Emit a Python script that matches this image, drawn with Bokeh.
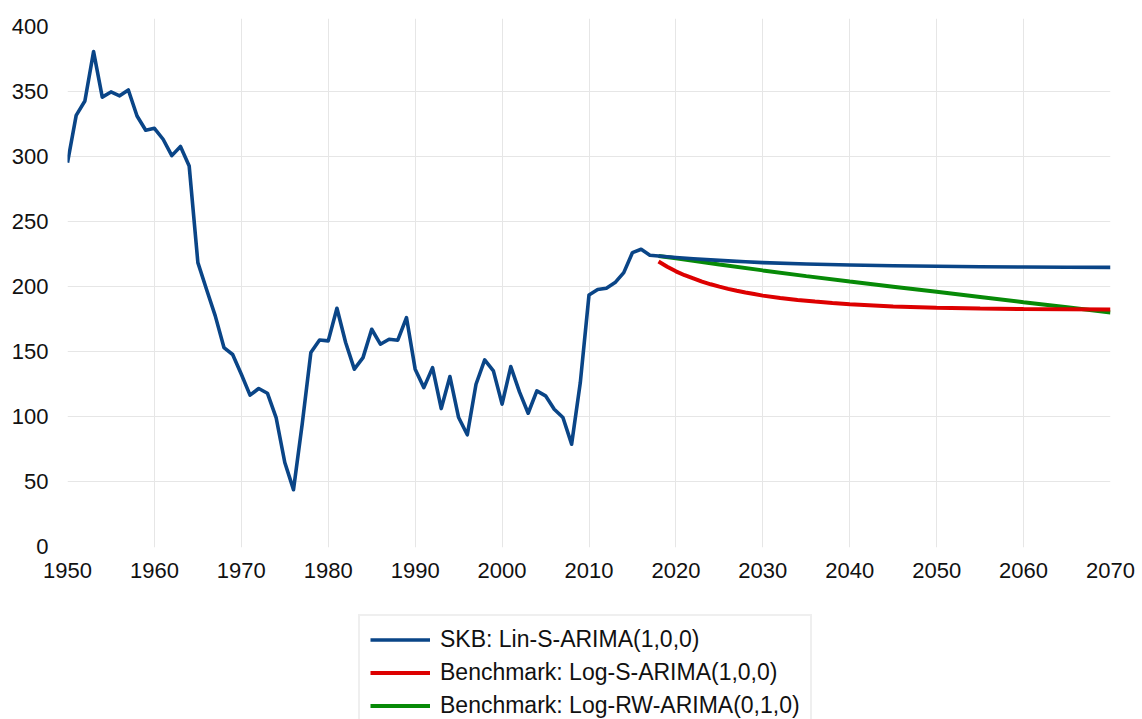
from bokeh.plotting import figure
from bokeh.layouts import column
from bokeh.models import Range1d, FixedTicker, Legend, LegendItem
from bokeh.embed import file_html
from bokeh.resources import INLINE

# ---- data ----
hist_years = list(range(1950, 2019))
hist_values = [295.6, 332, 343, 381, 346, 350, 347, 351.5, 331.5, 320.5,
               322, 313.6, 301, 308, 293, 218.7, 198, 177.7, 153.3, 148,
               132.8, 116.7, 121.8, 118.2, 99.5, 64.9, 44, 94.4, 149.5, 159.2,
               158.5, 183.6, 157.2, 136.7, 145.6, 167.4, 155.9, 159.7, 159, 176.4,
               136.7, 122.5, 137.9, 106.4, 131, 99.5, 86.2, 125.1, 143.8, 135.4,
               109.8, 138.7, 119.2, 102.8, 120, 116.2, 105.9, 99.5, 79, 126.4,
               193.8, 198, 199, 203.3, 211, 226.4, 229, 224.4, 223.8]

skb_fc_years = [2020, 2022, 2024, 2026, 2028, 2030, 2035, 2040, 2045, 2050, 2055, 2060, 2065, 2070]
skb_fc_values = [222.6, 221.6, 220.8, 220.0, 219.3, 218.7, 217.6, 216.9, 216.3, 215.9, 215.5, 215.3, 215.1, 215.0]

red_years = [2018, 2019, 2020, 2021, 2022, 2023, 2024, 2025, 2026, 2027, 2028, 2029, 2030,
             2032, 2034, 2036, 2038, 2040, 2045, 2050, 2055, 2060, 2065, 2070]
red_values = [219.5, 215.5, 212, 209, 206.5, 204, 202, 200.2, 198.5, 197, 195.7, 194.5, 193.3,
              191.5, 190, 188.7, 187.6, 186.6, 185, 184, 183.3, 183, 182.8, 182.6]

green_years = [2018, 2020, 2025, 2030, 2035, 2040, 2045, 2050, 2055, 2060, 2065, 2070]
green_values = [223.8, 222.0, 217.3, 212.7, 208.3, 204.2, 200.2, 196.2, 192.2, 188.2, 184.3, 180.3]

x_ticks = list(range(1950, 2071, 10))
y_ticks = list(range(0, 401, 50))

labels = ["SKB: Lin-S-ARIMA(1,0,0)",
          "Benchmark: Log-S-ARIMA(1,0,0)",
          "Benchmark: Log-RW-ARIMA(0,1,0)"]

BLUE = "#0A4587"
RED = "#DD0000"
GREEN = "#078A07"
FONT = "Liberation Sans"

p = figure(width=1138, height=600, output_backend="svg", toolbar_location=None,
           x_range=Range1d(1950, 2070), y_range=Range1d(-0.5, 406.5),
           min_border_left=67, min_border_right=28, min_border_top=18,
           min_border_bottom=53)
p.outline_line_color = None
p.background_fill_color = "white"
p.border_fill_color = "white"

for ax in (p.xaxis[0], p.yaxis[0]):
    ax.axis_line_color = None
    ax.major_tick_line_color = None
    ax.minor_tick_line_color = None
    ax.major_label_text_font = FONT
    ax.major_label_text_font_size = "22px"
    ax.major_label_text_color = "#111111"

p.xaxis.ticker = FixedTicker(ticks=x_ticks)
p.yaxis.ticker = FixedTicker(ticks=y_ticks)
p.xaxis.major_label_standoff = 9
p.yaxis.major_label_standoff = 13

p.xgrid.ticker = FixedTicker(ticks=x_ticks[1:-1])
p.ygrid.ticker = FixedTicker(ticks=y_ticks[1:-1])
p.xgrid.grid_line_color = "#e6e6e6"
p.ygrid.grid_line_color = "#e6e6e6"

skb_x = hist_years + skb_fc_years
skb_y = hist_values + skb_fc_values

p.line(green_years, green_values, line_color=GREEN, line_width=4)
p.line(red_years, red_values, line_color=RED, line_width=4)
p.line(skb_x, skb_y, line_color=BLUE, line_width=3.6, line_join="round")

# ---- legend panel (separate figure so the box may run off the bottom) ----
q = figure(width=1138, height=119, output_backend="svg", toolbar_location=None,
           x_axis_type=None, y_axis_type=None,
           x_range=Range1d(0, 1), y_range=Range1d(0, 1),
           min_border=0)
q.outline_line_color = None
q.xgrid.visible = False
q.ygrid.visible = False
# proxies for the legend swatches, placed outside the visible range
lb = q.line([5, 6], [5, 6], line_color=BLUE, line_width=3.6)
lr = q.line([5, 6], [5, 6], line_color=RED, line_width=4)
lg = q.line([5, 6], [5, 6], line_color=GREEN, line_width=4)

legend = Legend(items=[LegendItem(label=labels[0], renderers=[lb]),
                       LegendItem(label=labels[1], renderers=[lr]),
                       LegendItem(label=labels[2], renderers=[lg])],
                location=(291, -12), orientation="vertical",
                label_text_font=FONT, label_text_font_size="23px",
                label_text_color="#111111",
                glyph_width=60, glyph_height=27, label_height=27,
                label_standoff=10, spacing=6, padding=10, margin=0,
                border_line_color="#e0e0e0", border_line_width=2,
                background_fill_color="white", background_fill_alpha=1.0)
q.add_layout(legend, "center")

layout = column(p, q, spacing=0)
open("out.html", "w").write(file_html(layout, INLINE))
